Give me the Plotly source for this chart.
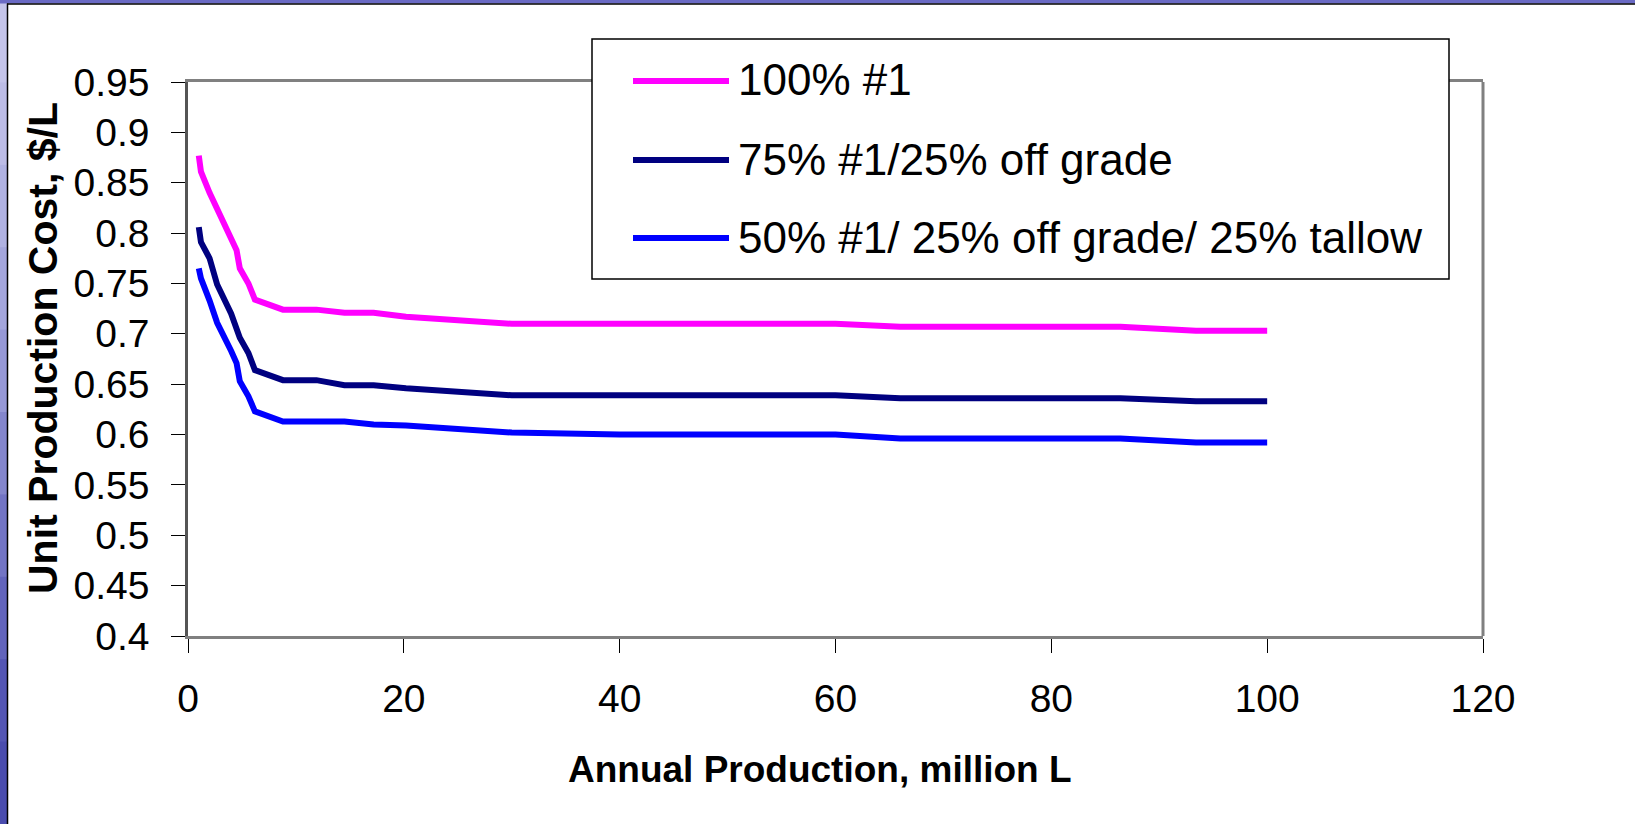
import plotly.graph_objects as go

# Annual production (million L) and unit production cost ($/L) per feedstock blend
production = [1, 1.2, 2, 2.7, 4, 4.5, 4.8, 5.6, 6.2, 8.8, 11.9, 14.5, 17.2, 20.2,
              30, 40, 50, 60, 66, 86.4, 93.4, 100]
cost_100 = [0.877, 0.861, 0.840, 0.823, 0.795, 0.783, 0.765, 0.750, 0.734, 0.724,
            0.724, 0.721, 0.721, 0.717, 0.710, 0.710, 0.710, 0.710, 0.707, 0.707,
            0.703, 0.703]
cost_75_25 = [0.806, 0.791, 0.775, 0.749, 0.720, 0.705, 0.696, 0.681, 0.664, 0.654,
              0.654, 0.649, 0.649, 0.646, 0.639, 0.639, 0.639, 0.639, 0.636, 0.636,
              0.633, 0.633]
cost_50_25_25 = [0.765, 0.755, 0.733, 0.711, 0.683, 0.671, 0.653, 0.638, 0.623, 0.613,
                 0.613, 0.613, 0.610, 0.609, 0.602, 0.600, 0.600, 0.600, 0.596, 0.596,
                 0.592, 0.592]

series_names = ["100% #1", "75% #1/25% off grade", "50% #1/ 25% off grade/ 25% tallow"]
series_colors = ["#FF00FF", "#000080", "#0000FF"]
series_values = [cost_100, cost_75_25, cost_50_25_25]

x_ticks = [0, 20, 40, 60, 80, 100, 120]
y_ticks = [0.4, 0.45, 0.5, 0.55, 0.6, 0.65, 0.7, 0.75, 0.8, 0.85, 0.9, 0.95]
y_tick_text = ["0.4", "0.45", "0.5", "0.55", "0.6", "0.65", "0.7", "0.75", "0.8",
               "0.85", "0.9", "0.95"]

W, H = 1635, 824
L, R, T, B = 188, 1483, 82, 636  # plot area edges in pixels

def px(x):
    return (x - L) / (R - L)

def py(y):
    return (B - y) / (B - T)

FONT = "Arial, Liberation Sans, sans-serif"

fig = go.Figure()
for name, ys, color in zip(series_names, series_values, series_colors):
    fig.add_trace(go.Scatter(x=production, y=ys, mode="lines", name=name,
                             line=dict(color=color, width=6), showlegend=False))

shapes = []
# blue slide edge on the left, drawn as a vertical colour ramp
ramp = ["#c4c4ea", "#bcbce6", "#b0b2e2", "#a4a6dc", "#9698d6", "#8486cc",
        "#7274c4", "#6264bc", "#5456b4", "#4a4cae"]
seg = H / len(ramp)
for i, c in enumerate(ramp):
    shapes.append(dict(type="rect", xref="paper", yref="paper", layer="above",
                       x0=px(0), x1=px(7), y0=py(i * seg), y1=py((i + 1) * seg + 1),
                       fillcolor=c, line=dict(width=0)))
shapes.append(dict(type="rect", xref="paper", yref="paper", layer="above",
                   x0=px(0), x1=px(W), y0=py(0), y1=py(3.5),
                   fillcolor="#6a6ac4", line=dict(width=0)))
shapes.append(dict(type="line", xref="paper", yref="paper", layer="above",
                   x0=px(7.5), x1=px(7.5), y0=py(3.5), y1=py(H),
                   line=dict(color="#000000", width=1.5)))
shapes.append(dict(type="line", xref="paper", yref="paper", layer="above",
                   x0=px(7), x1=px(W), y0=py(4), y1=py(4),
                   line=dict(color="#000000", width=1.5)))
# right edge of the plot area
shapes.append(dict(type="line", xref="paper", yref="paper", layer="above",
                   x0=1, x1=1, y0=0, y1=1, line=dict(color="#808080", width=3)))

# legend box with line samples and captions
LX0, LX1, LY0, LY1 = 592, 1449, 39, 279
shapes.append(dict(type="rect", xref="paper", yref="paper", layer="above",
                   x0=px(LX0), x1=px(LX1), y0=py(LY0), y1=py(LY1),
                   fillcolor="white", line=dict(color="#000000", width=1.5)))
legend_rows = [81, 160, 238]
annotations = []
for yrow, name, color in zip(legend_rows, series_names, series_colors):
    shapes.append(dict(type="line", xref="paper", yref="paper", layer="above",
                       x0=px(633), x1=px(729), y0=py(yrow), y1=py(yrow),
                       line=dict(color=color, width=6)))
    annotations.append(dict(x=px(736), y=py(yrow - 1), xref="paper", yref="paper",
                            text=name, showarrow=False, xanchor="left",
                            yanchor="middle",
                            font=dict(family=FONT, size=44, color="#000000")))

# axis titles
annotations.append(dict(x=px(820), y=py(770), xref="paper", yref="paper",
                        text="<b>Annual Production, million L</b>", showarrow=False,
                        xanchor="center", yanchor="middle",
                        font=dict(family=FONT, size=37, color="#000000")))
annotations.append(dict(x=px(43), y=py(348), xref="paper", yref="paper",
                        text="<b>Unit Production Cost, $/L</b>", showarrow=False,
                        xanchor="center", yanchor="middle", textangle=-90,
                        font=dict(family=FONT, size=41, color="#000000")))

fig.update_layout(
    width=W, height=H,
    margin=dict(l=L, r=W - R, t=T, b=H - B, pad=0),
    paper_bgcolor="white", plot_bgcolor="white",
    font=dict(family=FONT, color="#000000"),
    shapes=shapes, annotations=annotations,
    xaxis=dict(range=[0, 120], tickvals=x_ticks, ticks="outside", ticklen=14,
               tickwidth=1, tickcolor="#000000", showgrid=False, zeroline=False,
               showline=True, linecolor="#808080", linewidth=3, mirror=True,
               tickfont=dict(family=FONT, size=39, color="#000000"),
               ticklabelstandoff=12, fixedrange=True),
    yaxis=dict(range=[0.4, 0.95], tickvals=y_ticks, ticktext=y_tick_text,
               ticks="outside", ticklen=14, tickwidth=1, tickcolor="#000000",
               showgrid=False, zeroline=False, showline=True, linecolor="#555555",
               linewidth=2.5, tickfont=dict(family=FONT, size=39, color="#000000"),
               ticklabelstandoff=14, fixedrange=True),
)

fig.write_html("out.html")
